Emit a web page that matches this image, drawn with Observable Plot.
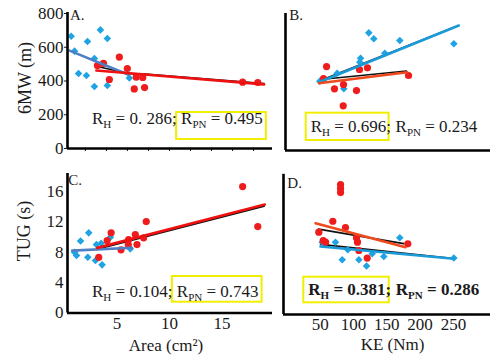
<!DOCTYPE html>
<html>
<head>
<meta charset="utf-8">
<script src="https://cdn.jsdelivr.net/npm/d3@7"></script>
<script src="https://cdn.jsdelivr.net/npm/@observablehq/plot@0.6"></script>
<style>
  body { margin: 0; background: #fff; }
  #chart { position: relative; width: 494px; height: 356px; overflow: hidden; }
  #chart svg { position: absolute; left: 0; top: 0; }
</style>
</head>
<body>
<div id="chart"></div>
<script>
// ---------- Panel A: Area (cm2) vs 6MW (m) ----------
const areaH_A = [0.65, 3.43, 4.09, 2.2, 0.97, 2.86, 1.35, 2.1, 2.86, 4.09, 6.18];
const mwH_A   = [665, 703, 652, 634, 577, 533, 444, 433, 367, 373, 418];
const areaPN_A = [3.15, 3.72, 5.23, 5.99, 4.28, 6.84, 7.46, 6.65, 7.63, 16.96, 18.4];
const mwPN_A   = [492, 504, 542, 474, 409, 423, 421, 353, 361, 393, 391];
const fitH_A_x = [0.5, 6.11],  fitH_A_y = [580, 437];
const fitPN_A_x = [3.05, 19.0], fitPN_A_y = [462, 380];
const blk_A_x = [3.15, 6.09, 7.38, 19.0], blk_A_y = [486, 444, 443, 385];

// ---------- Panel B: KE (Nm) vs 6MW (m) ----------
const keH_B = [123.0, 130.5, 169.5, 250.6, 147.0, 110.6, 109.5, 75.6, 49.5, 85.5];
const mwH_B = [687, 652, 642, 623, 568, 539, 516, 451, 405, 360];
const kePN_B = [59.6, 71.5, 85.0, 104.5, 109.0, 121.0, 182.6, 84.6, 55.0];
const mwPN_B = [490, 360, 385, 350, 473, 483, 438, 261, 420];
const fitH_B_x = [48.1, 258.0], fitH_B_y = [399, 730];
const fitPN_B_x = [48.1, 180.6], fitPN_B_y = [393, 457];
const blk_B1_x = [50.5, 250.0], blk_B1_y = [409, 718];
const blk_B2_x = [50.5, 179.6], blk_B2_y = [415, 464];

// ---------- Panel C: Area (cm2) vs TUG (s) ----------
const areaH_C = [0.97, 1.16, 1.54, 2.32, 3.5, 3.05, 4.38, 2.23, 2.96, 3.59, 6.27];
const tugH_C  = [8.01, 7.58, 9.51, 10.57, 9.2, 9.02, 9.99, 7.35, 6.92, 6.35, 8.46];
const areaPN_C = [3.27, 4.07, 4.45, 5.39, 6.11, 6.08, 6.75, 6.91, 7.54, 7.79, 16.96, 18.4];
const tugPN_C  = [7.35, 9.55, 10.57, 8.33, 9.68, 9.02, 10.34, 9.02, 9.91, 12.06, 16.67, 11.4];
const fitH_C_x = [0.75, 6.43], fitH_C_y = [8.23, 8.6];
const fitPN_C_x = [3.12, 19.07], fitPN_C_y = [8.59, 14.3];
const blk_C_x = [3.12, 19.0], blk_C_y = [8.4, 14.1];

// ---------- Panel D: KE (Nm) vs TUG (s) ----------
const keH_D = [53.1, 73.0, 83.1, 91.5, 108.1, 119.6, 128.1, 145.5, 169.5, 250.6];
const tugH_D = [9.49, 9.49, 7.18, 8.49, 7.18, 6.36, 7.97, 7.61, 10.07, 7.41];
const kePN_D = [80.6, 80.6, 80.6, 69.0, 88.0, 48.0, 54.6, 58.1, 104.5, 106.0, 108.1, 120.6, 181.5];
const tugPN_D = [17.06, 16.54, 16.0, 12.24, 11.42, 10.8, 9.71, 9.49, 10.07, 9.49, 8.4, 7.41, 9.28];
const fitH_D_x = [50.5, 250.6], fitH_D_y = [8.92, 7.31];
const fitPN_D_x = [43.1, 178.0], fitPN_D_y = [11.98, 8.83];
const blk_D1_x = [47.6, 175.4], blk_D1_y = [11.2, 9.3];
const blk_D2_x = [50.5, 250.6], blk_D2_y = [9.2, 7.35];

// ---------- tick values ----------
const ticks6MW = [0, 200, 400, 600, 800];
const ticksTUG = [0, 4, 8, 12, 16];
const ticksArea = [5, 10, 15];
const minorArea = [2, 4, 6, 8, 10, 12, 14, 16, 18];
const ticksKE = [50, 100, 150, 200, 250];

// ---------- text ----------
const panelLetters = ["A.", "B.", "C.", "D."];
const yTitles = ["6MW (m)", "TUG (s)"];
const xTitles = ["Area (cm²)", "KE (Nm)"];
const rH = ["0. 286", "0.696", "0.104", "0.381"];
const rPN = ["0.495", "0.234", "0.743", "0.286"];

const BLUE = "#1fa3e3", RED = "#ee1c1c";
const pts = (xs, ys) => xs.map((x, i) => ({x, y: ys[i]}));

function panel(o) {
  return Plot.plot({
    width: 494, height: 356,
    marginLeft: o.ml, marginRight: o.mr, marginTop: o.mt, marginBottom: o.mb,
    x: {domain: o.xd, axis: null},
    y: {domain: o.yd, axis: null},
    style: {background: "transparent", fontFamily: "'Liberation Serif', serif", fontSize: "17px", color: "#1a1a1a", overflow: "visible"},
    marks: [
      ...o.axes,
      ...o.blacks.map(([xs, ys]) => Plot.line(pts(xs, ys), {x: "x", y: "y", stroke: "#111", strokeWidth: 1.6})),
      Plot.dot(pts(o.hx, o.hy), {x: "x", y: "y", symbol: "diamond2", r: 3.4, fill: BLUE}),
      Plot.dot(pts(o.px, o.py), {x: "x", y: "y", r: 3.6, fill: RED}),
      Plot.line(pts(o.fhx, o.fhy), {x: "x", y: "y", stroke: o.hLine, strokeWidth: 2.6}),
      Plot.line(pts(o.fpx, o.fpy), {x: "x", y: "y", stroke: o.pLine, strokeWidth: 2.6}),
      Plot.ruleX([o.xd[0]], {stroke: "#000", strokeWidth: 2.6}),
      Plot.ruleY([o.yd[0]], {stroke: "#000", strokeWidth: 2.6})
    ]
  });
}

const chart = document.getElementById("chart");

// Panel A
chart.append(panel({
  ml: 67, mr: 222, mt: 12, mb: 208, xd: [0.3, 19.8], yd: [0, 806],
  axes: [
    Plot.axisY({ticks: ticks6MW, tickSize: 3, tickPadding: 1, label: null, fontSize: 17}),
    Plot.axisX({ticks: minorArea, tickSize: 3, tickFormat: () => "", label: null})
  ],
  hx: areaH_A, hy: mwH_A, px: areaPN_A, py: mwPN_A,
  fhx: fitH_A_x, fhy: fitH_A_y, fpx: fitPN_A_x, fpy: fitPN_A_y,
  blacks: [[blk_A_x, blk_A_y]], hLine: "#4f7fc4", pLine: "#ee1111"
}));

// Panel B
chart.append(panel({
  ml: 285, mr: 4, mt: 13, mb: 206, xd: [-2, 305.6], yd: [0, 800],
  axes: [],
  hx: keH_B, hy: mwH_B, px: kePN_B, py: mwPN_B,
  fhx: fitH_B_x, fhy: fitH_B_y, fpx: fitPN_B_x, fpy: fitPN_B_y,
  blacks: [[blk_B1_x, blk_B1_y], [blk_B2_x, blk_B2_y]], hLine: "#1b9ad8", pLine: "#ee4a1c"
}));

// Panel C
chart.append(panel({
  ml: 67, mr: 222, mt: 173, mb: 43.5, xd: [0.3, 19.8], yd: [0, 18.4],
  axes: [
    Plot.axisY({ticks: ticksTUG, tickSize: 0, tickPadding: 4, label: null, fontSize: 17}),
    Plot.axisX({ticks: ticksArea, tickSize: 0, tickPadding: 4, label: null, fontSize: 17})
  ],
  hx: areaH_C, hy: tugH_C, px: areaPN_C, py: tugPN_C,
  fhx: fitH_C_x, fhy: fitH_C_y, fpx: fitPN_C_x, fpy: fitPN_C_y,
  blacks: [[blk_C_x, blk_C_y]], hLine: "#4f7fc4", pLine: "#ee1111"
}));

// Panel D
chart.append(panel({
  ml: 283, mr: 4, mt: 173.8, mb: 42, xd: [-5, 305.6], yd: [0, 18.4],
  axes: [
    Plot.axisX({ticks: ticksKE, tickSize: 0, tickPadding: 3, label: null, fontSize: 17})
  ],
  hx: keH_D, hy: tugH_D, px: kePN_D, py: tugPN_D,
  fhx: fitH_D_x, fhy: fitH_D_y, fpx: fitPN_D_x, fpy: fitPN_D_y,
  blacks: [[blk_D1_x, blk_D1_y], [blk_D2_x, blk_D2_y]], hLine: "#1b9ad8", pLine: "#ee4a1c"
}));

// ---------- overlay text ----------
const ov = d3.select("#chart").append("svg")
  .attr("width", 494).attr("height", 356)
  .attr("font-family", "'Liberation Serif', serif")
  .attr("fill", "#1a1a1a")
  .style("pointer-events", "none");

// panel letters
[[70, 20], [289.3, 20], [68.3, 185], [287.3, 188]].forEach(([x, y], i) => {
  ov.append("text").attr("x", x).attr("y", y).attr("font-size", 15).text(panelLetters[i]);
});

// axis titles
ov.append("text").attr("transform", "translate(31,78) rotate(-90)").attr("text-anchor", "middle").attr("font-size", 18).text(yTitles[0]);
ov.append("text").attr("transform", "translate(30,231) rotate(-90)").attr("text-anchor", "middle").attr("font-size", 18).text(yTitles[1]);
ov.append("text").attr("x", 166).attr("y", 351).attr("text-anchor", "middle").attr("font-size", 17).text(xTitles[0]);
ov.append("text").attr("x", 392.5).attr("y", 350).attr("text-anchor", "middle").attr("font-size", 17).text(xTitles[1]);

// R annotations
function rPart(g, x, y, sub, val, weight, trailing) {
  const t = g.append("text").attr("x", x).attr("y", y).attr("font-size", 17)
    .attr("font-weight", weight).style("white-space", "pre");
  t.append("tspan").text("R");
  t.append("tspan").attr("font-size", 11).attr("dy", 4).text(sub);
  t.append("tspan").attr("dy", -4).text(" = " + val + trailing);
  return t;
}
function rAnnot(x, y, i, boxFirst, by0, by1, weight) {
  const g = ov.append("g");
  const t1 = rPart(g, x, y, "H", rH[i], weight, ";");
  const w1 = t1.node().getComputedTextLength();
  const t2 = rPart(g, x + w1 + 4.5, y, "PN", rPN[i], weight, "");
  const tb = boxFirst ? t1 : t2;
  const bb = tb.node().getBBox();
  let x0 = bb.x - 5, x1 = bb.x + bb.width + 3;
  if (boxFirst) x1 = bb.x + bb.width - 2.5; // box ends before the semicolon
  g.insert("rect", ":first-child").attr("x", x0).attr("y", by0)
    .attr("width", x1 - x0).attr("height", by1 - by0)
    .attr("fill", "none").attr("stroke", "#f2ee00").attr("stroke-width", 2);
}
rAnnot(92, 124, 0, false, 112, 139, "normal");
rAnnot(310.7, 132, 1, true, 112.7, 140, "normal");
rAnnot(92, 297, 2, false, 276, 301.7, "normal");
rAnnot(308.3, 295, 3, true, 276.7, 302.3, "bold");
</script>
</body>
</html>
